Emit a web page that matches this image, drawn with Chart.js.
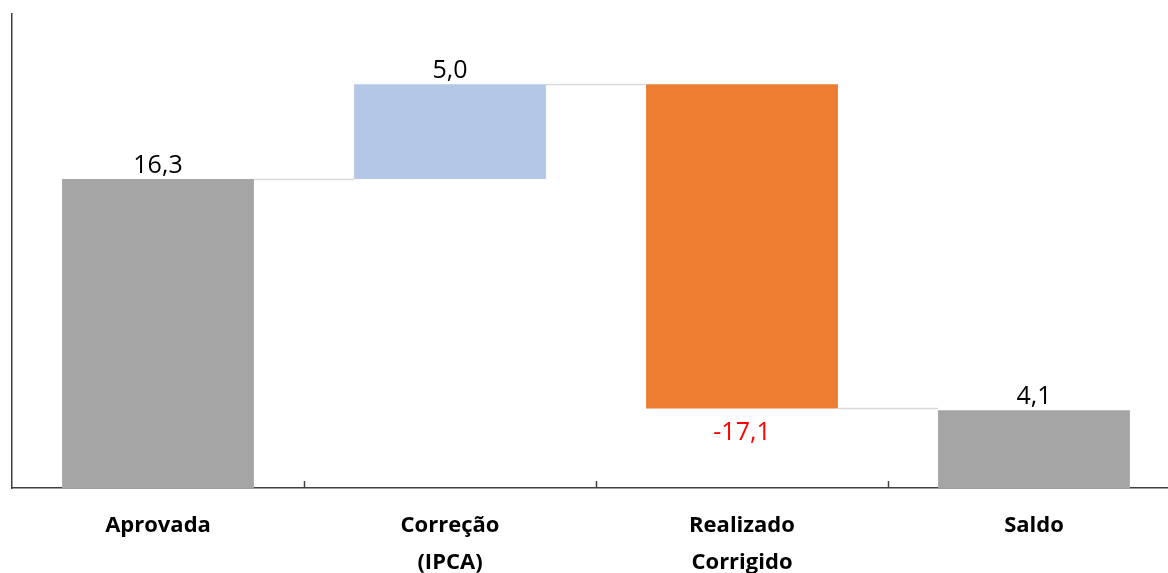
<!DOCTYPE html>
<html>
<head>
<meta charset="utf-8">
<script src="https://cdn.jsdelivr.net/npm/chart.js@4.4.1/dist/chart.umd.min.js"></script>
<style>
  html, body { margin: 0; padding: 0; background: #fff; overflow: hidden; }
  #wrap { width: 1180px; height: 600px; }
</style>
</head>
<body>
<div id="wrap"><canvas id="waterfall"></canvas></div>
<script>
// dados
const categories = [['Aprovada'], ['Correção', '(IPCA)'], ['Realizado', 'Corrigido'], ['Saldo']];
const values = [16.3, 5.0, -17.1, 4.1];
const kinds = ['total', 'delta', 'delta', 'total'];
const barColors = ['#a5a5a5', '#b4c7e7', '#ed7d31', '#a5a5a5'];
const labelColors = ['#000000', '#000000', '#ff0000', '#000000'];
const yMax = 25;

// monta as barras flutuantes [início, fim]
let running = 0;
const floating = values.map((v, i) => {
  if (kinds[i] === 'total') {
    running = v;
    return [0, v];
  }
  const start = running;
  running += v;
  return [start, running];
});

const fmt = v => v.toFixed(1).replace('.', ',');

const waterfallExtras = {
  id: 'waterfallExtras',
  afterDatasetsDraw(chart) {
    const { ctx, scales: { x, y } } = chart;
    const meta = chart.getDatasetMeta(0);
    ctx.save();

    // linhas de ligação entre as barras
    ctx.strokeStyle = '#d9d9d9';
    ctx.lineWidth = 1.5;
    for (let i = 0; i < meta.data.length - 1; i++) {
      const bar = meta.data[i];
      const next = meta.data[i + 1];
      const py = Math.round(y.getPixelForValue(floating[i][1])) + 0.5;
      ctx.beginPath();
      ctx.moveTo(bar.x + bar.width / 2, py);
      ctx.lineTo(next.x - next.width / 2, py);
      ctx.stroke();
    }

    // rótulos de valor
    ctx.font = '25px "Open Sans"';
    ctx.textAlign = 'center';
    meta.data.forEach((bar, i) => {
      ctx.fillStyle = labelColors[i];
      if (values[i] < 0) {
        ctx.textBaseline = 'top';
        ctx.fillText(fmt(values[i]), bar.x, y.getPixelForValue(floating[i][1]) + 12);
      } else {
        ctx.textBaseline = 'bottom';
        ctx.fillText(fmt(values[i]), bar.x, y.getPixelForValue(floating[i][1]) - 1);
      }
    });

    // marcas do eixo x entre categorias (para dentro)
    ctx.strokeStyle = '#404040';
    ctx.lineWidth = 1.5;
    const base = chart.chartArea.bottom;
    for (let i = 0; i < categories.length - 1; i++) {
      const px = Math.round((x.getPixelForValue(i) + x.getPixelForValue(i + 1)) / 2) + 0.5;
      ctx.beginPath();
      ctx.moveTo(px, base);
      ctx.lineTo(px, base - 7);
      ctx.stroke();
    }
    ctx.restore();
  }
};

new Chart(document.getElementById('waterfall'), {
  type: 'bar',
  data: {
    labels: categories,
    datasets: [{
      data: floating,
      backgroundColor: barColors,
      borderWidth: 0,
      barPercentage: 0.657,
      categoryPercentage: 1.0,
    }],
  },
  options: {
    responsive: true,
    maintainAspectRatio: false,
    animation: false,
    layout: { padding: { left: 12, top: 14, right: 0, bottom: 0 } },
    plugins: {
      legend: { display: false },
      tooltip: { enabled: false },
    },
    scales: {
      x: {
        grid: { display: false, drawTicks: false },
        border: { display: true, color: '#404040', width: 1.5 },
        ticks: {
          color: '#000',
          font: { family: '"Open Sans"', size: 22, weight: 'bold', lineHeight: 1.68 },
          padding: 19,
          maxRotation: 0,
          autoSkip: false,
        },
      },
      y: {
        min: 0,
        max: yMax,
        grid: { display: false, drawTicks: false },
        border: { display: true, color: '#404040', width: 1.5 },
        ticks: { display: false },
      },
    },
  },
  plugins: [waterfallExtras],
});
</script>
</body>
</html>
